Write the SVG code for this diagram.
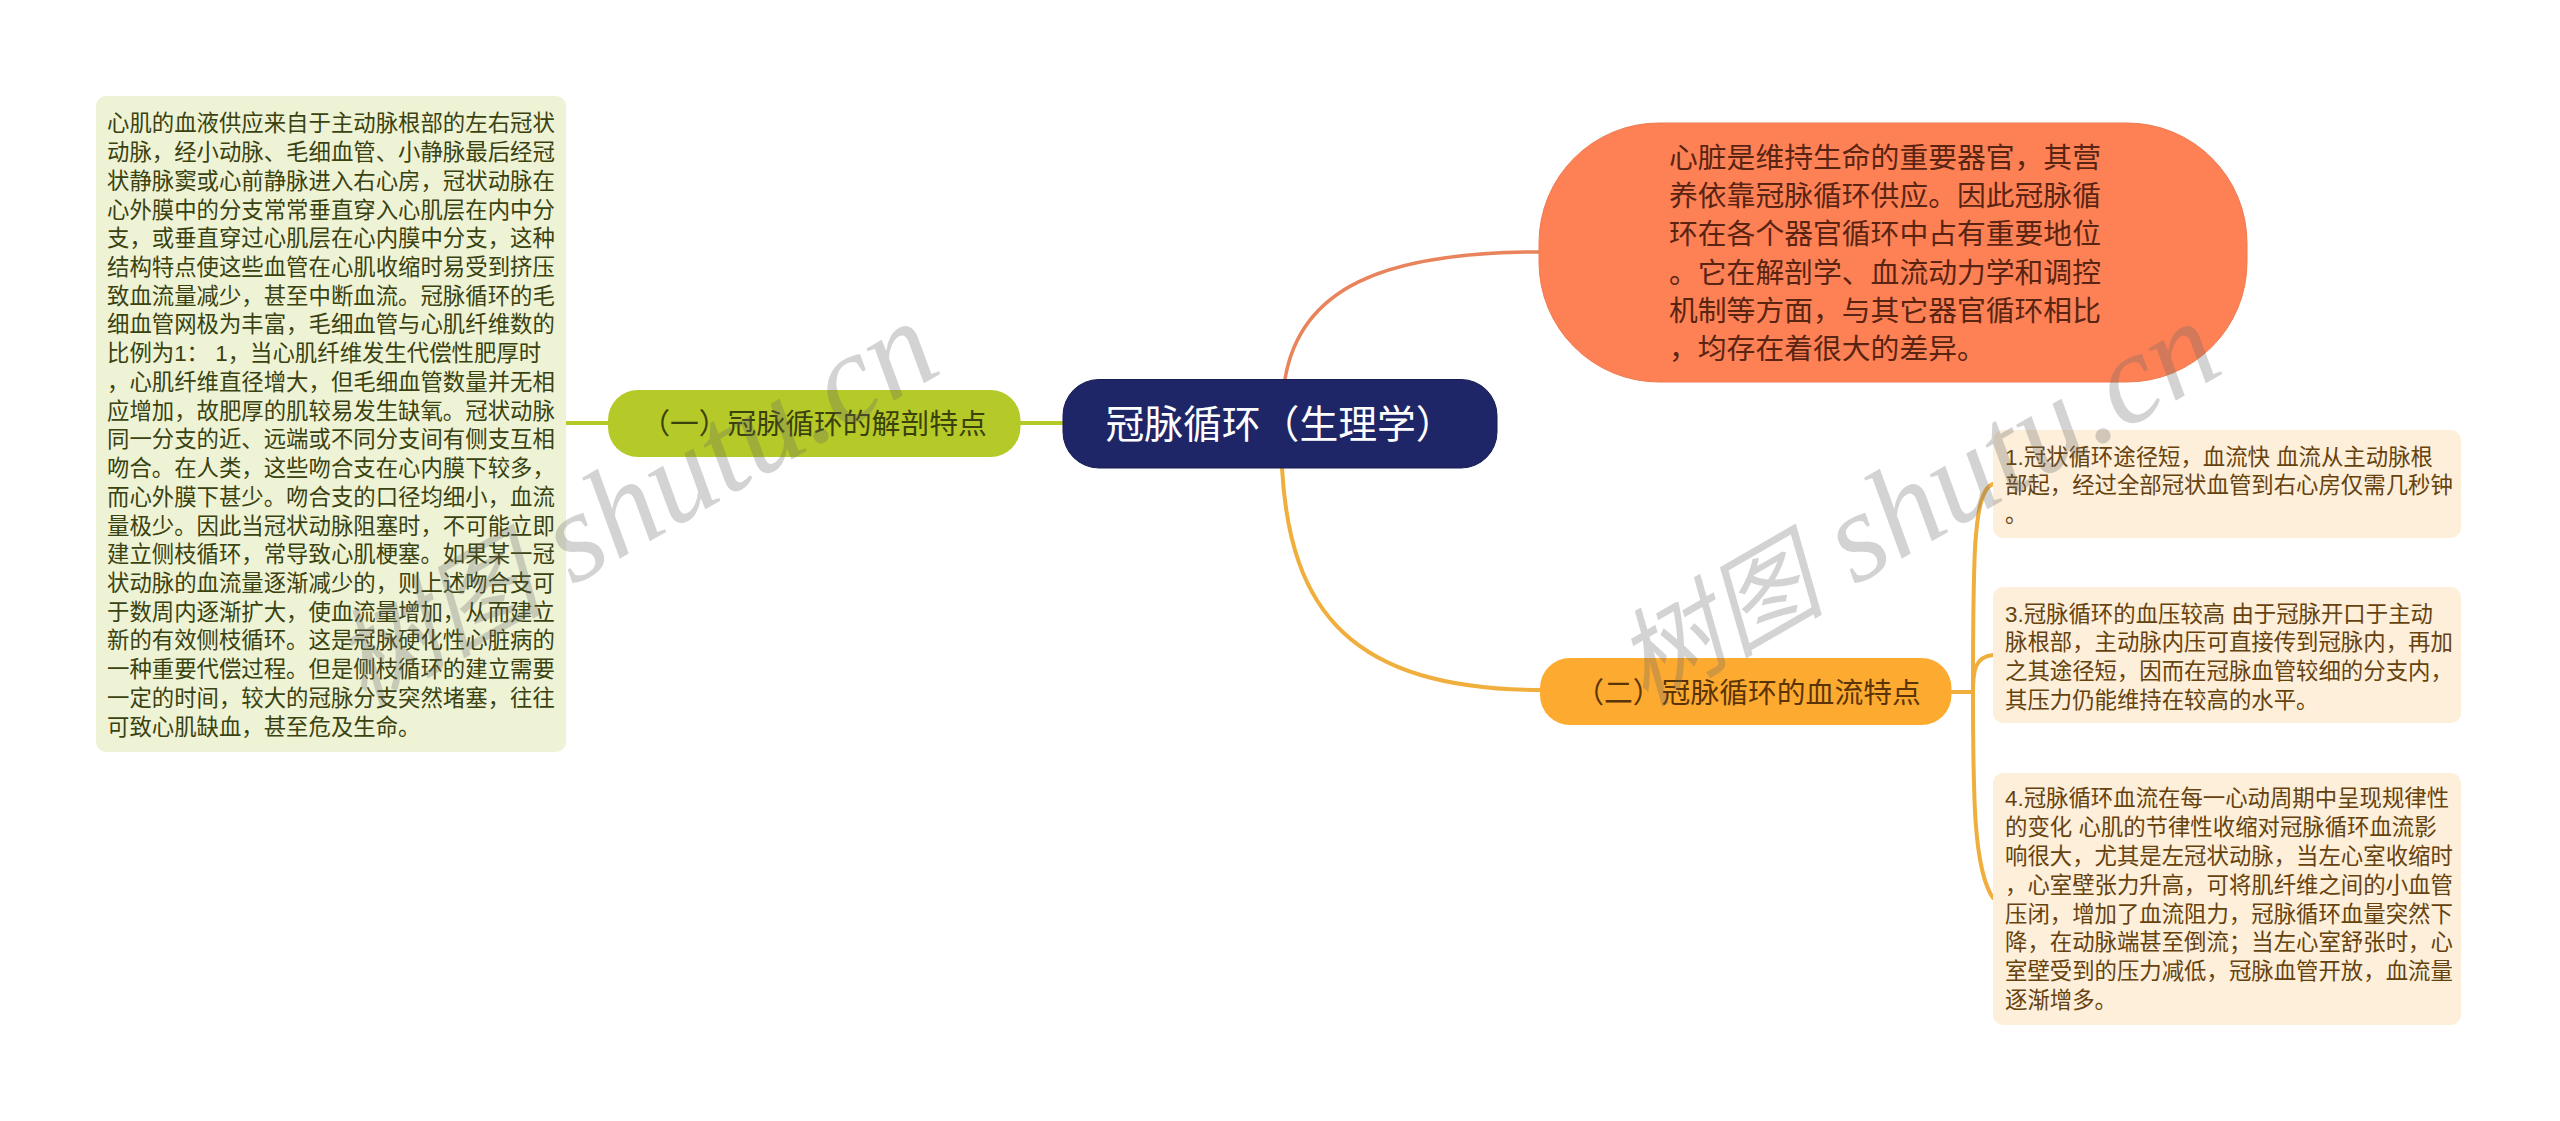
<svg xmlns="http://www.w3.org/2000/svg" width="2560" height="1121" viewBox="0 0 2560 1121">
<style>
text{font-family:"Liberation Sans","Noto Sans CJK SC",sans-serif}
.c{fill:none;stroke-linecap:round}
.o{stroke:#f0ae3c;stroke-width:4}
.g{stroke:#b5c928;stroke-width:4}
.r{stroke:#e8835c;stroke-width:3.5}
.sm{font-size:22.4px}
.mid{font-size:28.8px;text-anchor:middle}
.lf{fill:#3a4210}
.rt{fill:#66420e}
.wm{font-family:"Liberation Serif","Noto Sans CJK SC",serif;font-size:128px;font-style:italic;fill:#666;fill-opacity:.29}
.wm .cjk{font-size:105px}
</style>
<rect width="2560" height="1121" fill="#fff"/>
<g id="connectors">
<path class="c r" d="M1285 379C1300 290 1380 252 1539 252"/>
<path class="c o" d="M1282 468C1290 610 1350 690 1542 690"/>
<path class="c g" d="M1020 423H1063"/>
<path class="c g" d="M566 423H608"/>
<path class="c o" d="M1951 692H1973"/>
<path class="c o" d="M1973 692C1973 560 1973 490 1993 484"/>
<path class="c o" d="M1973 692C1973 670 1975 657 1993 655"/>
<path class="c o" d="M1973 692C1973 800 1974 870 1993 898"/>
</g>
<g id="root">
<rect x="1063" y="379.500" width="434" height="88.500" rx="36" fill="#1f2667" stroke="#171d52" stroke-width="1"/>
<text x="1280" y="438" font-size="38.800" fill="#fff" text-anchor="middle">冠脉循环（生理学）</text>
</g>
<g id="intro">
<rect x="1539" y="123" width="708" height="259" rx="120" fill="#fd8155" stroke="#ee7a50" stroke-width="1"/>
<text font-size="28.800" fill="#5a2412">
<tspan x="1669" y="167.700">心脏是维持生命的重要器官，其营</tspan>
<tspan x="1669" y="206">养依靠冠脉循环供应。因此冠脉循</tspan>
<tspan x="1669" y="244.300">环在各个器官循环中占有重要地位</tspan>
<tspan x="1669" y="282.700">。它在解剖学、血流动力学和调控</tspan>
<tspan x="1669" y="321">机制等方面，与其它器官循环相比</tspan>
<tspan x="1669" y="359.300">，均存在着很大的差异。</tspan>
</text>
</g>
<g id="branch1">
<rect x="608" y="390" width="412.500" height="67" rx="30" fill="#b5c928"/>
<text class="mid" x="814" y="434" fill="#3a410c">（一）冠脉循环的解剖特点</text>
</g>
<g id="branch1-detail">
<rect x="96" y="96" width="470" height="656" rx="10" fill="#eef3d6"/>
<text class="sm lf">
<tspan x="107" y="131.300">心肌的血液供应来自于主动脉根部的左右冠状</tspan>
<tspan x="107" y="160">动脉，经小动脉、毛细血管、小静脉最后经冠</tspan>
<tspan x="107" y="188.800">状静脉窦或心前静脉进入右心房，冠状动脉在</tspan>
<tspan x="107" y="217.500">心外膜中的分支常常垂直穿入心肌层在内中分</tspan>
<tspan x="107" y="246.200">支，或垂直穿过心肌层在心内膜中分支，这种</tspan>
<tspan x="107" y="275">结构特点使这些血管在心肌收缩时易受到挤压</tspan>
<tspan x="107" y="303.700">致血流量减少，甚至中断血流。冠脉循环的毛</tspan>
<tspan x="107" y="332.400">细血管网极为丰富，毛细血管与心肌纤维数的</tspan>
<tspan x="107" y="361.100">比例为1： 1，当心肌纤维发生代偿性肥厚时</tspan>
<tspan x="107" y="389.900">，心肌纤维直径增大，但毛细血管数量并无相</tspan>
<tspan x="107" y="418.600">应增加，故肥厚的肌较易发生缺氧。冠状动脉</tspan>
<tspan x="107" y="447.300">同一分支的近、远端或不同分支间有侧支互相</tspan>
<tspan x="107" y="476">吻合。在人类，这些吻合支在心内膜下较多，</tspan>
<tspan x="107" y="504.800">而心外膜下甚少。吻合支的口径均细小，血流</tspan>
<tspan x="107" y="533.500">量极少。因此当冠状动脉阻塞时，不可能立即</tspan>
<tspan x="107" y="562.200">建立侧枝循环，常导致心肌梗塞。如果某一冠</tspan>
<tspan x="107" y="591">状动脉的血流量逐渐减少的，则上述吻合支可</tspan>
<tspan x="107" y="619.700">于数周内逐渐扩大，使血流量增加，从而建立</tspan>
<tspan x="107" y="648.400">新的有效侧枝循环。这是冠脉硬化性心脏病的</tspan>
<tspan x="107" y="677.200">一种重要代偿过程。但是侧枝循环的建立需要</tspan>
<tspan x="107" y="705.900">一定的时间，较大的冠脉分支突然堵塞，往往</tspan>
<tspan x="107" y="734.600">可致心肌缺血，甚至危及生命。</tspan>
</text>
</g>
<g id="branch2">
<rect x="1540" y="658" width="411.500" height="67" rx="30" fill="#fdab30"/>
<text class="mid" x="1748" y="703" fill="#5a3406">（二）冠脉循环的血流特点</text>
</g>
<g id="detail1">
<rect x="1993" y="430" width="468" height="108" rx="10" fill="#fdefd9"/>
<text class="sm rt">
<tspan x="2005" y="464.700">1.冠状循环途径短，血流快 血流从主动脉根</tspan>
<tspan x="2005" y="493">部起，经过全部冠状血管到右心房仅需几秒钟</tspan>
<tspan x="2005" y="521.500">。</tspan>
</text>
</g>
<g id="detail3">
<rect x="1993" y="587" width="468" height="136" rx="10" fill="#fdefd9"/>
<text class="sm rt">
<tspan x="2005" y="621.500">3.冠脉循环的血压较高 由于冠脉开口于主动</tspan>
<tspan x="2005" y="650">脉根部，主动脉内压可直接传到冠脉内，再加</tspan>
<tspan x="2005" y="679">之其途径短，因而在冠脉血管较细的分支内，</tspan>
<tspan x="2005" y="707.500">其压力仍能维持在较高的水平。</tspan>
</text>
</g>
<g id="detail4">
<rect x="1993" y="773" width="468" height="252" rx="10" fill="#fdefd9"/>
<text class="sm rt">
<tspan x="2005" y="806.300">4.冠脉循环血流在每一心动周期中呈现规律性</tspan>
<tspan x="2005" y="835">的变化 心肌的节律性收缩对冠脉循环血流影</tspan>
<tspan x="2005" y="864">响很大，尤其是左冠状动脉，当左心室收缩时</tspan>
<tspan x="2005" y="892.800">，心室壁张力升高，可将肌纤维之间的小血管</tspan>
<tspan x="2005" y="921.500">压闭，增加了血流阻力，冠脉循环血量突然下</tspan>
<tspan x="2005" y="950.300">降，在动脉端甚至倒流；当左心室舒张时，心</tspan>
<tspan x="2005" y="979">室壁受到的压力减低，冠脉血管开放，血流量</tspan>
<tspan x="2005" y="1008">逐渐增多。</tspan>
</text>
</g>
<g id="watermarks">
<text class="wm" transform="translate(1645 707) rotate(-30)"><tspan class="cjk">树图</tspan> shutu.cn</text>
<text class="wm" transform="translate(363 707) rotate(-30)"><tspan class="cjk">树图</tspan> shutu.cn</text>
</g>
</svg>
